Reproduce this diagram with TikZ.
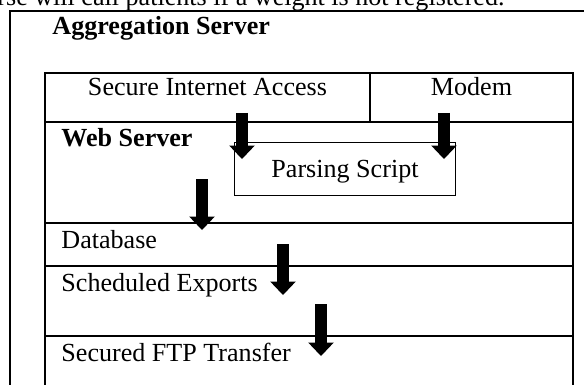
\documentclass[tikz,border=0pt]{standalone}
\usepackage{fontspec}
\setmainfont{Liberation Serif}
\usetikzlibrary{arrows.meta,positioning}

\begin{document}
\begin{tikzpicture}[
    x=0.46pt, y=-0.46pt,
    font=\fontsize{12}{14}\selectfont,
    frame/.style={draw, line width=0.9pt},
    grid/.style={draw, line width=0.6pt},
    label/.style={anchor=base west, inner sep=0pt},
    cell/.style={anchor=base, inner sep=0pt},
    script/.style={rectangle, draw, line width=0.5pt, minimum width=102pt, minimum height=24pt, inner sep=0pt},
    flow/.style={line width=5.3pt, -{Triangle[width=11.8pt, length=6.2pt, line width=0pt]}},
]
    \useasboundingbox (0,0) rectangle (584,385);
    \clip (0,0) rectangle (584,385);

    \node[label] (note) at (-3,6) {rse will call patients if a weight is not registered.};
    \draw[frame] (10,11) rectangle (610,420);
    \node[label] (aggr) at (52,35) {\bfseries Aggregation Server};

    \draw[grid] (45,73) rectangle (573,420);
    \draw[grid] (370,73) -- (370,122);
    \draw[grid] (45,122) -- (573,122);
    \draw[grid] (45,223) -- (573,223);
    \draw[grid] (45,266) -- (573,266);
    \draw[grid] (45,336) -- (573,336);

    \node[cell] (secure) at (207.5,96) {Secure Internet Access};
    \node[cell] (modem) at (471.5,96) {Modem};
    \node[label] (websrv) at (61,147) {\bfseries Web Server};
    \node[script] (parse) at (345,169) {};
    \node[cell] (parsetext) at (345,177) {Parsing Script};
    \node[label] (db) at (61,248) {Database};
    \node[label] (exports) at (61,291) {Scheduled Exports};
    \node[label] (ftp) at (61,361) {Secured FTP Transfer};

    \coordinate (secure out) at (242,113);
    \coordinate (secure in) at (242,159);
    \coordinate (modem out) at (444,113);
    \coordinate (modem in) at (444,159);
    \coordinate (web out) at (202,179);
    \coordinate (db in) at (202,230);
    \coordinate (db out) at (283,244);
    \coordinate (exports in) at (283,295);
    \coordinate (exports out) at (321,304);
    \coordinate (ftp in) at (321,356);

    \draw[flow] (secure out) -- (secure in);
    \draw[flow] (modem out) -- (modem in);
    \draw[flow] (web out) -- (db in);
    \draw[flow] (db out) -- (exports in);
    \draw[flow] (exports out) -- (ftp in);
\end{tikzpicture}
\end{document}
